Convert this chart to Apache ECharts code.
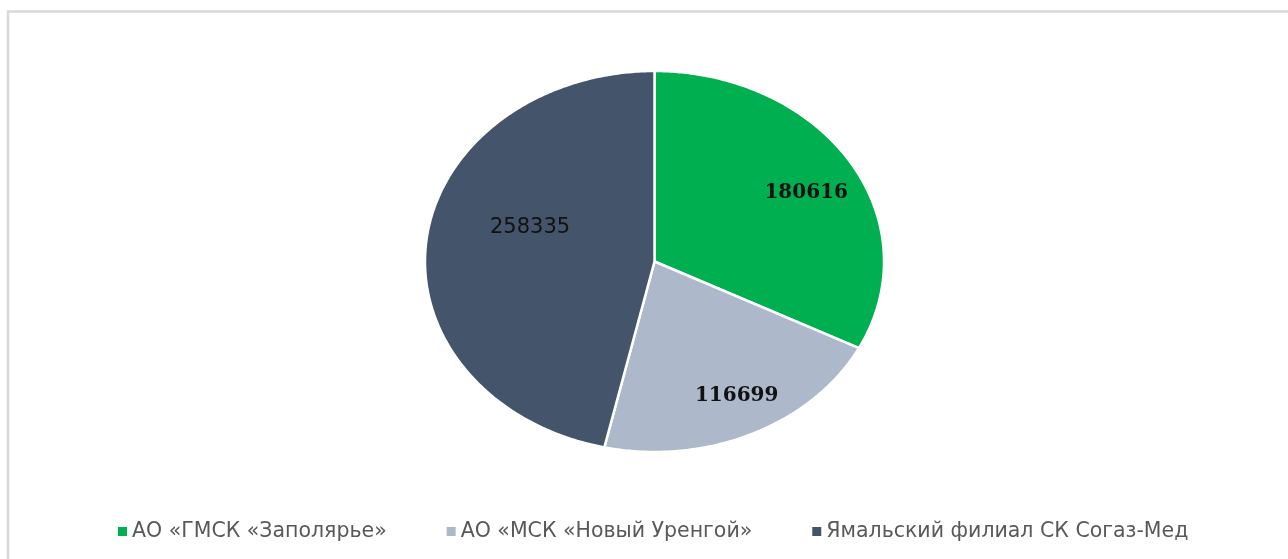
<!DOCTYPE html>
<html>
<head>
<meta charset="utf-8">
<script src="https://cdn.jsdelivr.net/npm/echarts@6/dist/echarts.min.js"></script>
<style>
  html, body { margin: 0; padding: 0; background: #fff; }
  #chart { width: 1288px; height: 559px; }
</style>
</head>
<body>
<div id="chart"></div>
<script>
// ---- data ----
const categories = ['АО «ГМСК «Заполярье»', 'АО «МСК «Новый Уренгой»', 'Ямальский филиал СК Согаз-Мед'];
const values = [180616, 116699, 258335];
const colors = ['#00b050', '#adb9ca', '#44546a'];

// ---- layout / style ----
const CX = 654.5, CY = 261.5, RX = 229.5, RY = 190.5;
const labelR = [0.77, 0.79, 0.55];
const labelDx = [1, 5, 1];
const labelDy = [8, -2, -22];
const labelFonts = [
  { fontFamily: 'DejaVu Serif', fontWeight: 'bold', fontSize: 20 },
  { fontFamily: 'DejaVu Serif', fontWeight: 'bold', fontSize: 20 },
  { fontFamily: 'DejaVu Sans', fontWeight: 'normal', fontSize: 21 }
];

const total = values.reduce((a, b) => a + b, 0);

function makeRender(i) {
  return function (params, api) {
    const v = api.value(0);
    let before = 0;
    for (let k = 0; k < i; k++) before += values[k];
    const a0 = before / total * Math.PI * 2;
    const a1 = (before + v) / total * Math.PI * 2;
    const pts = [[CX, CY]];
    const steps = Math.max(8, Math.ceil((a1 - a0) / 0.01));
    for (let s = 0; s <= steps; s++) {
      const a = a0 + (a1 - a0) * s / steps;
      pts.push([CX + RX * Math.sin(a), CY - RY * Math.cos(a)]);
    }
    const mid = (a0 + a1) / 2;
    const lx = CX + labelR[i] * RX * Math.sin(mid) + labelDx[i];
    const ly = CY - labelR[i] * RY * Math.cos(mid) + labelDy[i];
    return {
      type: 'group',
      children: [
        {
          type: 'polygon',
          shape: { points: pts },
          style: { fill: colors[i], stroke: '#ffffff', lineWidth: 2.5, lineJoin: 'miter' }
        },
        {
          type: 'text',
          x: lx, y: ly,
          style: Object.assign({
            text: String(v),
            fill: '#111111',
            align: 'center',
            verticalAlign: 'middle'
          }, labelFonts[i]),
          z2: 10
        }
      ]
    };
  };
}

const series = categories.map((name, i) => ({
  type: 'custom',
  name: name,
  coordinateSystem: 'none',
  itemStyle: { color: colors[i] },
  data: [values[i]],
  renderItem: makeRender(i)
}));

const chart = echarts.init(document.getElementById('chart'), null, { renderer: 'canvas' });
chart.setOption({
  animation: false,
  backgroundColor: '#ffffff',
  graphic: [{
    type: 'rect',
    shape: { x: 8, y: 11.5, width: 1400, height: 700 },
    style: { fill: 'none', stroke: '#d9d9d9', lineWidth: 2.5 },
    silent: true
  }],
  legend: {
    data: categories,
    left: 113,
    top: 516,
    icon: 'rect',
    itemWidth: 9,
    itemHeight: 9,
    itemGap: 60,
    textStyle: { fontFamily: 'DejaVu Sans', fontSize: 20.5, color: '#595959' }
  },
  series: series
});
</script>
</body>
</html>
